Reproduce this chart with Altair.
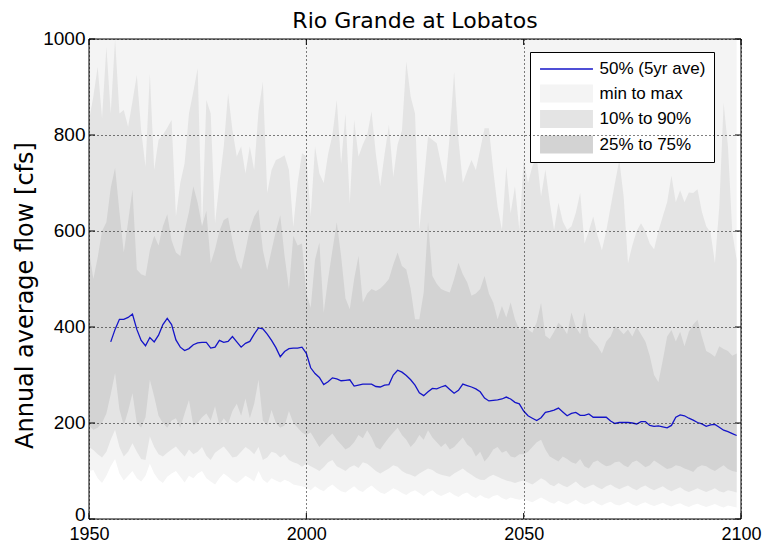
import altair as alt
import pandas as pd

# ---------------- data ----------------
years = list(range(1950, 2100))

p90 = [830, 880, 942, 835, 984, 845, 1000, 845, 852, 817,
       870, 925, 810, 734, 928, 727, 790, 800, 815, 831,
       630, 700, 741, 845, 890, 939, 602, 873, 845, 616,
       700, 776, 887, 810, 755, 776, 720, 776, 727, 850,
       911, 679, 727, 748, 752, 758, 727, 609, 700, 762,
       755, 630, 776, 720, 700, 760, 800, 873, 740, 845,
       658, 831, 755, 780, 800, 849, 760, 693, 760, 821,
       713, 780, 810, 953, 880, 845, 602, 700, 797, 790,
       783, 740, 700, 800, 932, 790, 700, 725, 748, 727,
       770, 814, 814, 727, 650, 602, 734, 637, 693, 602,
       748, 700, 735, 755, 672, 728, 660, 602, 659, 620,
       602, 610, 638, 679, 574, 600, 630, 590, 560, 600,
       650, 700, 748, 672, 533, 570, 600, 616, 600, 574,
       562, 600, 630, 660, 715, 660, 685, 660, 680, 679,
       687, 640, 610, 597, 533, 650, 867, 776, 597, 540]

p75 = [560, 500, 545, 600, 618, 690, 732, 640, 555, 620,
       686, 520, 510, 506, 560, 590, 570, 610, 635, 580,
       555, 548, 600, 640, 693, 659, 610, 642, 533, 562,
       600, 623, 628, 580, 540, 520, 560, 604, 630, 645,
       560, 519, 560, 600, 633, 548, 479, 590, 570, 574,
       470, 440, 540, 576, 430, 500, 560, 618, 548, 460,
       437, 500, 548, 451, 470, 479, 475, 480, 489, 500,
       530, 555, 527, 520, 479, 416, 416, 472, 618, 506,
       490, 479, 475, 472, 500, 534, 510, 493, 465, 470,
       479, 506, 470, 451, 416, 444, 420, 451, 416, 395,
       402, 395, 388, 410, 450, 382, 375, 390, 409, 400,
       385, 430, 400, 385, 430, 380, 370, 360, 345, 370,
       380, 402, 395, 385, 395, 380, 400, 385, 370, 340,
       300, 285, 330, 380, 394, 370, 390, 360, 390, 405,
       415, 380, 350, 345, 338, 360, 354, 350, 340, 345]

p25 = [195, 186, 190, 200, 220, 260, 304, 228, 195, 225,
       262, 200, 190, 212, 290, 255, 215, 200, 190, 205,
       210, 190, 220, 248, 195, 200, 212, 220, 205, 235,
       195, 210, 198, 225, 240, 215, 251, 210, 240, 290,
       205, 195, 227, 200, 190, 195, 225, 200, 190, 180,
       175, 180, 165, 150, 160, 170, 178, 165, 155, 145,
       150, 160, 175, 168, 185, 170, 150, 145, 158, 170,
       180, 190, 175, 165, 150, 160, 175, 165, 185, 170,
       160, 150, 158, 145, 150, 160, 170, 155, 148, 130,
       140, 120, 130, 145, 150, 138, 142, 130, 128, 135,
       135, 140, 150, 160, 165, 145, 130, 125, 120, 130,
       125, 118, 115, 125, 110, 105, 118, 122, 115, 110,
       112, 118, 120, 112, 108, 118, 122, 115, 108, 112,
       122, 116, 110, 104, 106, 112, 110, 105, 102, 98,
       108, 112, 110, 104, 100, 106, 112, 104, 100, 98]

p10 = [150, 144, 135, 128, 140, 165, 186, 150, 130, 140,
       158, 140, 125, 123, 172, 150, 135, 130, 138, 145,
       151, 140, 130, 145, 135, 140, 150, 132, 123, 138,
       145, 151, 140, 128, 130, 140, 150, 144, 135, 150,
       123, 128, 140, 137, 128, 135, 123, 118, 115, 109,
       115, 110, 105, 100, 108, 118, 123, 110, 105, 100,
       108, 112, 106, 118, 115, 108, 100, 95, 100, 105,
       112, 109, 100, 95, 92, 88, 95, 100, 105, 102,
       96, 92, 90, 88, 95, 100, 105, 98, 92, 86,
       82, 81, 88, 92, 88, 84, 80, 78, 75, 78,
       80, 76, 72, 78, 85, 80, 72, 68, 75, 70,
       66, 72, 78, 70, 64, 68, 72, 66, 62, 68,
       72, 66, 62, 66, 70, 64, 60, 66, 70, 64,
       60, 64, 68, 62, 58, 62, 66, 60, 56, 60,
       64, 60, 56, 60, 64, 58, 55, 60, 58, 55]

p_min = [100, 102, 85, 75, 90, 110, 125, 95, 80, 90,
         100, 85, 78, 90, 115, 95, 82, 75, 88, 95,
         100, 88, 76, 90, 85, 95, 100, 85, 78, 72,
         85, 95, 88, 80, 75, 82, 90, 85, 78, 100,
         82, 75, 85, 80, 76, 82, 78, 72, 70, 68,
         65, 60, 68, 62, 58, 66, 72, 64, 58, 55,
         62, 68, 60, 56, 64, 70, 62, 55, 52, 58,
         64, 60, 54, 50, 56, 60, 54, 48, 55, 60,
         52, 48, 52, 56, 50, 46, 52, 55, 48, 44,
         50, 45, 42, 48, 50, 44, 40, 45, 42, 40,
         42, 38, 35, 40, 45, 40, 35, 32, 38, 34,
         30, 35, 40, 34, 30, 33, 38, 32, 28, 33,
         36, 30, 28, 32, 36, 30, 27, 32, 35, 30,
         27, 30, 34, 29, 26, 30, 33, 28, 25, 29,
         32, 28, 25, 28, 31, 27, 24, 28, 26, 24]

# the max curve lies above the top of the axis (1000 cfs) in every year
axis_top = 1000

med_years = list(range(1955, 2100))
median_5yr = [369, 395, 416, 416, 420,
              427, 395, 372, 361, 378, 369, 383, 405, 418, 405,
              373, 358, 351, 355, 363, 367, 368, 368, 356, 358,
              372, 368, 370, 380, 369, 358, 366, 370, 385, 398,
              396, 385, 372, 357, 338, 349, 355, 356, 356, 358,
              345, 315, 303, 295, 280, 286, 294, 292, 288, 289,
              290, 277, 279, 281, 281, 281, 276, 275, 279, 280,
              300, 310, 306, 299, 290, 279, 263, 257, 265, 272,
              271, 275, 278, 270, 262, 268, 281, 278, 275, 271,
              265, 252, 246, 247, 248, 250, 254, 250, 243, 240,
              225, 215, 210, 205, 211, 222, 224, 227, 231, 223,
              215, 220, 222, 216, 216, 219, 212, 212, 212, 212,
              204, 199, 201, 201, 201, 200, 198, 203, 203, 195,
              193, 194, 192, 190, 195, 212, 217, 215, 210, 206,
              201, 198, 193, 196, 197, 191, 185, 182, 178, 174]

legend_labels = ["50% (5yr ave)", "min to max", "10% to 90%", "25% to 75%"]
legend_colors = ["#1414c8", "#f4f4f4", "#e4e4e4", "#d3d3d3"]
x_ticks = [1950, 2000, 2050, 2100]
y_ticks = [0, 200, 400, 600, 800, 1000]

# ---------------- tables ----------------
bands = pd.DataFrame({"year": years, "min": p_min, "p10": p10, "p25": p25,
                      "p75": p75, "p90": p90})
med = pd.DataFrame({"year": med_years, "median": median_5yr})
leg_df = pd.DataFrame({"label": legend_labels})
ytick_df = pd.DataFrame({"v": y_ticks})
xtick_df = pd.DataFrame({"v": x_ticks})
frame_df = pd.DataFrame({"f": [0]})

W, H = 652, 480

xscale = alt.Scale(domain=[1950, 2100], nice=False, zero=False)
yscale = alt.Scale(domain=[0, 1000], nice=False)

common_axis = dict(grid=True, gridColor="black", gridDash=[1, 3], gridOpacity=1,
                   gridWidth=1, ticks=False, tickSize=0, domain=False,
                   labelFont="Liberation Sans", labelColor="black",
                   labelOverlap=False, labelFlush=False, zindex=1)
xaxis = alt.Axis(values=x_ticks, format="d", title=None, labelPadding=6,
                 labelFontSize=18, **common_axis)
yaxis = alt.Axis(values=y_ticks, format="d", title="Annual average flow [cfs]",
                 titleFont="DejaVu Sans", titleFontSize=24, titleFontWeight="normal",
                 titleColor="black", titlePadding=5, titleY=256, labelPadding=4,
                 labelFontSize=19,
                 labelOffset=alt.condition("datum.value == 0", alt.value(-5), alt.value(-1)),
                 **common_axis)


def X(field):
    return alt.X(field, scale=xscale, axis=xaxis)


def Y(field):
    return alt.Y(field, scale=yscale, axis=yaxis)


minmax = alt.Chart(bands).mark_area(color=legend_colors[1]).encode(
    x=X("year:Q"), y=Y("min:Q"), y2=alt.datum(axis_top),
)
band90 = alt.Chart(bands).mark_area(color=legend_colors[2]).encode(
    x=X("year:Q"), y=Y("p10:Q"), y2="p90:Q",
)
band75 = alt.Chart(bands).mark_area(color=legend_colors[3]).encode(
    x=X("year:Q"), y=Y("p25:Q"), y2="p75:Q",
)
medline = alt.Chart(med).mark_line(color=legend_colors[0], strokeWidth=1.3).encode(
    x=X("year:Q"), y=Y("median:Q"),
)

rect_path = "M-2.94,-1H2.94V1H-2.94Z"
line_path = "M-2.94,-0.07H2.94V0.07H-2.94Z"
leg = alt.Legend(title=None, orient="none", legendX=441, legendY=13, direction="vertical",
                 labelFont="Liberation Sans", labelFontSize=17, labelColor="black",
                 labelLimit=300, padding=8, rowPadding=7.5, symbolSize=324,
                 symbolStrokeWidth=0, symbolOffset=19.5, labelOffset=24,
                 strokeColor="black", fillColor="white", cornerRadius=0)
legend_layer = alt.Chart(leg_df).transform_filter("false").mark_point(
    filled=True, opacity=1, size=324).encode(
    color=alt.Color("label:N", scale=alt.Scale(domain=legend_labels, range=legend_colors), legend=leg),
    shape=alt.Shape("label:N", scale=alt.Scale(domain=legend_labels,
                    range=[line_path, rect_path, rect_path, rect_path]), legend=leg),
)

frame = alt.Chart(frame_df).mark_rect(filled=False, stroke="black", strokeWidth=1).encode(
    x=alt.value(0), x2=alt.value(W), y=alt.value(0), y2=alt.value(H))

ytl = alt.Chart(ytick_df).mark_rule(color="black").encode(
    y=Y("v:Q"), x=alt.value(0), x2=alt.value(6))
ytr = alt.Chart(ytick_df).mark_rule(color="black").encode(
    y=Y("v:Q"), x=alt.value(W - 6), x2=alt.value(W))
xtb = alt.Chart(xtick_df).mark_rule(color="black").encode(
    x=X("v:Q"), y=alt.value(H - 6), y2=alt.value(H))
xtt = alt.Chart(xtick_df).mark_rule(color="black").encode(
    x=X("v:Q"), y=alt.value(0), y2=alt.value(6))

chart = alt.layer(minmax, band90, band75, medline, legend_layer, frame,
                  ytl, ytr, xtb, xtt).properties(
    width=W, height=H,
    title=alt.TitleParams(text="Rio Grande at Lobatos", font="DejaVu Sans", fontSize=22,
                          fontWeight="normal", color="black", anchor="middle", offset=-4),
    autosize=alt.AutoSizeParams(type="none"),
    padding={"left": 81, "top": 31, "right": 24, "bottom": 27},
    background="white",
).configure_view(strokeWidth=0)

chart.save("out.html", embed_options={"renderer": "svg", "actions": False})
